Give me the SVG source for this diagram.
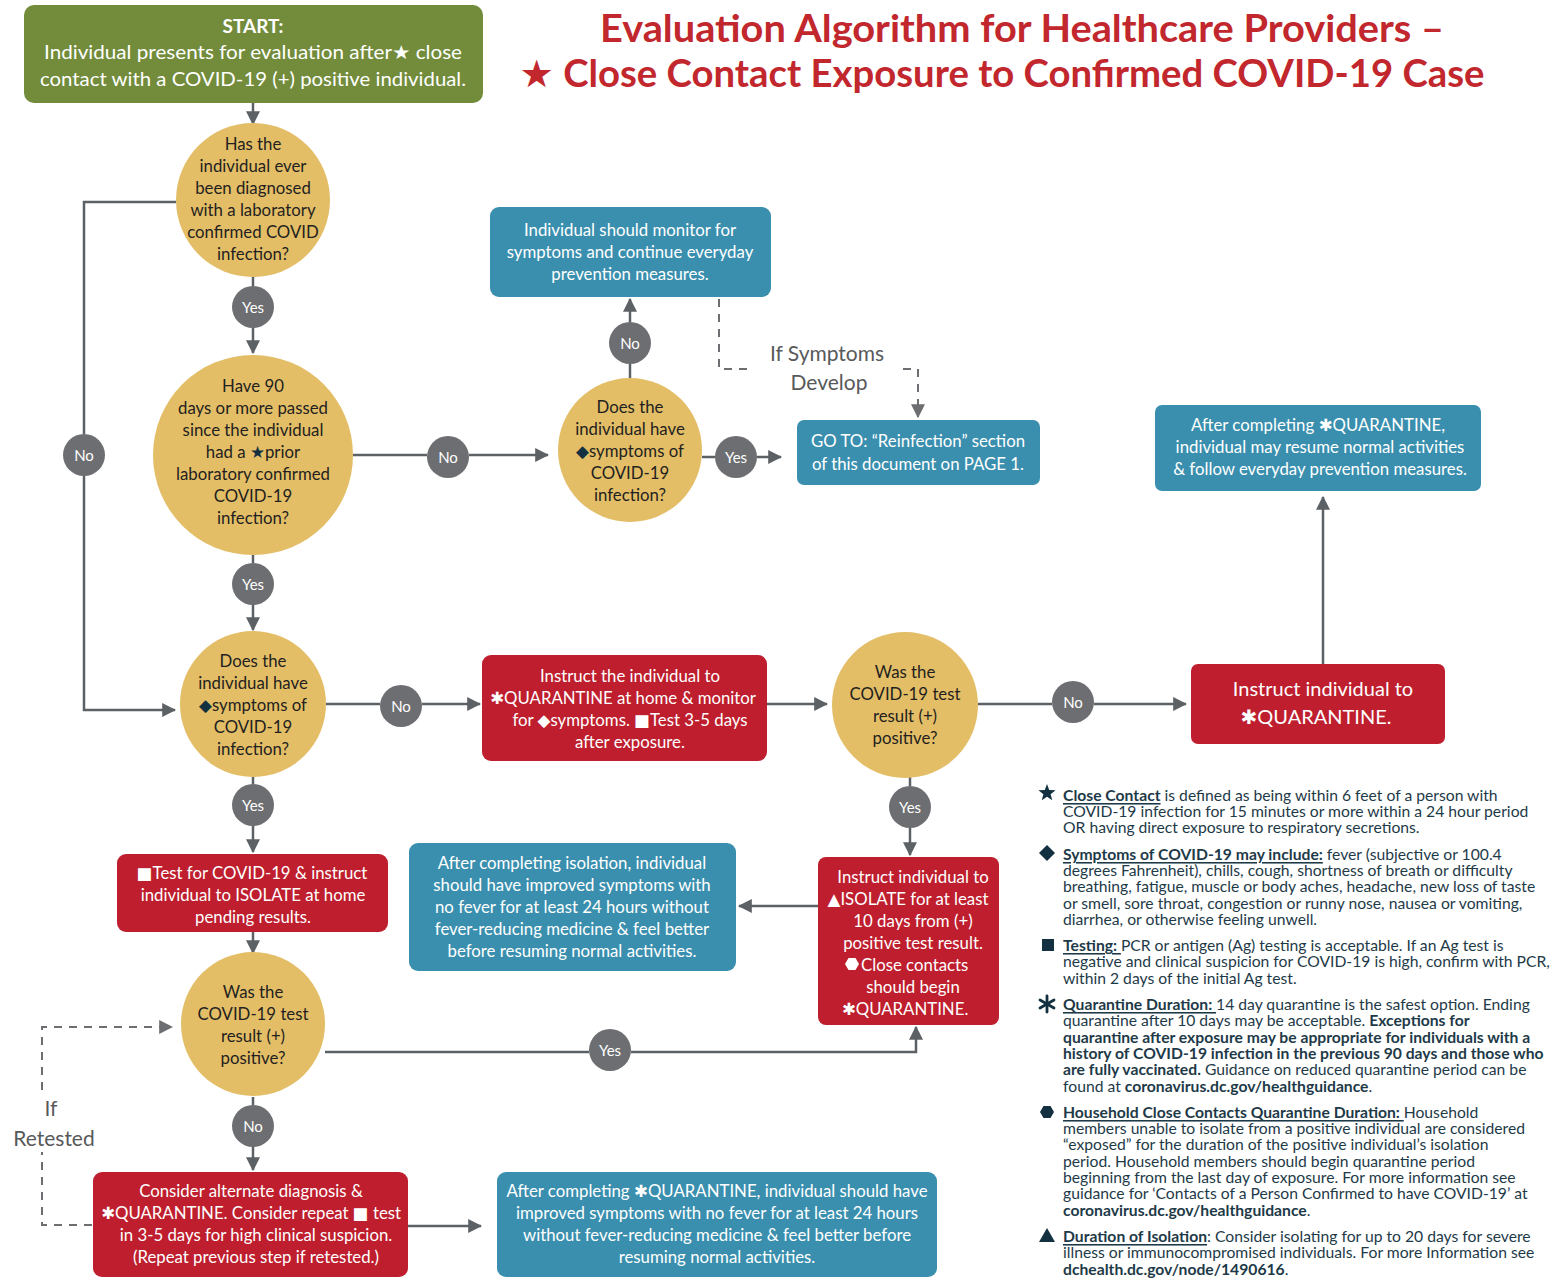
<svg xmlns="http://www.w3.org/2000/svg" width="1554" height="1278" viewBox="0 0 1554 1278">
<style>
text{font-family:Lato,"DejaVu Sans",sans-serif}
.dec{fill:#E3BE67}
.red{fill:#BE1E2D}
.teal{fill:#3A8FAE}
.grn{fill:#728C3B}
.badge{fill:#6D6E71}
.t{font-size:16.8px;fill:#231F20;text-anchor:middle;dominant-baseline:central}
.w{font-size:16.8px;fill:#FFFFFF;text-anchor:middle;dominant-baseline:central}
.bt{font-size:15px;fill:#FFFFFF;text-anchor:middle;dominant-baseline:central}
.c{stroke:#5C6166;stroke-width:2.5;fill:none}
.d{stroke:#6D6E71;stroke-width:2;fill:none;stroke-dasharray:8 7}
.lbl{font-size:21px;fill:#58595B;text-anchor:middle;dominant-baseline:central}
.leg{font-size:15.7px;fill:#1E3A48;dominant-baseline:central}
.b{font-weight:bold}
.u{font-weight:bold;text-decoration:underline}
.sym{fill:#12303F}
</style>
<defs>
<marker id="ah" viewBox="0 0 12 12" refX="11" refY="6" markerWidth="14" markerHeight="14" markerUnits="userSpaceOnUse" orient="auto">
<path d="M0,0 L12,6 L0,12 z" fill="#5C6166"/>
</marker>
<marker id="ahd" viewBox="0 0 12 12" refX="11" refY="6" markerWidth="14" markerHeight="14" markerUnits="userSpaceOnUse" orient="auto">
<path d="M0,0 L12,6 L0,12 z" fill="#6D6E71"/>
</marker>
</defs>

<g id="title">
<text x="1022" y="42" font-size="38" font-weight="bold" fill="#C1272D" text-anchor="middle" textLength="844" lengthAdjust="spacingAndGlyphs">Evaluation Algorithm for Healthcare Providers –</text>
<text x="1002" y="87" font-size="38" font-weight="bold" fill="#C1272D" text-anchor="middle" textLength="965" lengthAdjust="spacingAndGlyphs">★ Close Contact Exposure to Confirmed COVID-19 Case</text>
</g>

<g id="connectors">
<path class="c" d="M253,103 V124" marker-end="url(#ah)"/>
<path class="c" d="M253,277 V286"/>
<path class="c" d="M253,328 V353" marker-end="url(#ah)"/>
<path class="c" d="M253,555 V563"/>
<path class="c" d="M253,605 V630" marker-end="url(#ah)"/>
<path class="c" d="M253,777 V784"/>
<path class="c" d="M253,826 V852" marker-end="url(#ah)"/>
<path class="c" d="M253,932 V953" marker-end="url(#ah)"/>
<path class="c" d="M253,1097 V1105"/>
<path class="c" d="M253,1147 V1170" marker-end="url(#ah)"/>
<path class="c" d="M408,1226 H481" marker-end="url(#ah)"/>
<path class="d" d="M92,1225 H42 V1152"/>
<path class="d" d="M42,1090 V1027 H172" marker-end="url(#ahd)"/>
<path class="c" d="M176,202 H84 V434"/>
<path class="c" d="M84,476 V710 H175" marker-end="url(#ah)"/>
<path class="c" d="M353,455 H427"/>
<path class="c" d="M469,455 H548" marker-end="url(#ah)"/>
<path class="c" d="M630,378 V364"/>
<path class="c" d="M630,322 V299" marker-end="url(#ah)"/>
<path class="c" d="M702,457 H715"/>
<path class="c" d="M757,457 H781" marker-end="url(#ah)"/>
<path class="d" d="M719,299 V369 H752"/>
<path class="d" d="M903,369 H918 V417" marker-end="url(#ahd)"/>
<path class="c" d="M326,704 H380"/>
<path class="c" d="M422,704 H480" marker-end="url(#ah)"/>
<path class="c" d="M767,704 H827" marker-end="url(#ah)"/>
<path class="c" d="M978,704 H1052"/>
<path class="c" d="M1094,704 H1186" marker-end="url(#ah)"/>
<path class="c" d="M1323,664 V497" marker-end="url(#ah)"/>
<path class="c" d="M910,777 V786"/>
<path class="c" d="M910,828 V855" marker-end="url(#ah)"/>
<path class="c" d="M818,906 H739" marker-end="url(#ah)"/>
<path class="c" d="M325,1052 H589"/>
<path class="c" d="M631,1052 H916 V1027" marker-end="url(#ah)"/>
<text class="lbl" x="51" y="1107">If</text>
<text class="lbl" x="54" y="1137">Retested</text>
<text class="lbl" x="827" y="352">If Symptoms</text>
<text class="lbl" x="829" y="381">Develop</text>
</g>

<g id="badges">
<circle class="badge" cx="253" cy="307" r="21"/><text class="bt" x="253" y="307">Yes</text>
<circle class="badge" cx="253" cy="584" r="21"/><text class="bt" x="253" y="584">Yes</text>
<circle class="badge" cx="253" cy="805" r="21"/><text class="bt" x="253" y="805">Yes</text>
<circle class="badge" cx="253" cy="1126" r="21"/><text class="bt" x="253" y="1126">No</text>
<circle class="badge" cx="84" cy="455" r="21"/><text class="bt" x="84" y="455">No</text>
<circle class="badge" cx="448" cy="457" r="21"/><text class="bt" x="448" y="457">No</text>
<circle class="badge" cx="630" cy="343" r="21"/><text class="bt" x="630" y="343">No</text>
<circle class="badge" cx="736" cy="457" r="21"/><text class="bt" x="736" y="457">Yes</text>
<circle class="badge" cx="401" cy="706" r="21"/><text class="bt" x="401" y="706">No</text>
<circle class="badge" cx="1073" cy="702" r="21"/><text class="bt" x="1073" y="702">No</text>
<circle class="badge" cx="910" cy="807" r="21"/><text class="bt" x="910" y="807">Yes</text>
<circle class="badge" cx="610" cy="1050" r="21"/><text class="bt" x="610" y="1050">Yes</text>
</g>

<g id="start">
<rect class="grn" x="24" y="5" width="459" height="98" rx="10"/>
<text class="w b" x="253" y="25" style="font-size:19px">START:</text>
<text class="w" x="253" y="51" style="font-size:19px" textLength="418" lengthAdjust="spacingAndGlyphs">Individual presents for evaluation after★ close</text>
<text class="w" x="253" y="78" style="font-size:19px" textLength="426" lengthAdjust="spacingAndGlyphs">contact with a COVID-19 (+) positive individual.</text>
</g>

<g id="q1">
<circle class="dec" cx="253" cy="200" r="77"/>
<text class="t" x="253" y="143">Has the</text>
<text class="t" x="253" y="165">individual ever</text>
<text class="t" x="253" y="187">been diagnosed</text>
<text class="t" x="253" y="209">with a laboratory</text>
<text class="t" x="253" y="231">confirmed COVID</text>
<text class="t" x="253" y="253">infection?</text>
</g>

<g id="q2">
<circle class="dec" cx="253" cy="455" r="100"/>
<text class="t" x="253" y="385">Have 90</text>
<text class="t" x="253" y="407">days or more passed</text>
<text class="t" x="253" y="429">since the individual</text>
<text class="t" x="253" y="451">had a <tspan fill="#12303F">★</tspan>prior</text>
<text class="t" x="253" y="473">laboratory confirmed</text>
<text class="t" x="253" y="495">COVID-19</text>
<text class="t" x="253" y="517">infection?</text>
</g>

<g id="q3">
<circle class="dec" cx="253" cy="704" r="73"/>
<text class="t" x="253" y="660">Does the</text>
<text class="t" x="253" y="682">individual have</text>
<text class="t" x="253" y="704"><tspan fill="#12303F">◆</tspan>symptoms of</text>
<text class="t" x="253" y="726">COVID-19</text>
<text class="t" x="253" y="748">infection?</text>
</g>

<g id="q4">
<circle class="dec" cx="253" cy="1024" r="72"/>
<text class="t" x="253" y="991">Was the</text>
<text class="t" x="253" y="1013">COVID-19 test</text>
<text class="t" x="253" y="1035">result (+)</text>
<text class="t" x="253" y="1057">positive?</text>
</g>

<g id="q5">
<circle class="dec" cx="630" cy="450" r="72"/>
<text class="t" x="630" y="406">Does the</text>
<text class="t" x="630" y="428">individual have</text>
<text class="t" x="630" y="450"><tspan fill="#12303F">◆</tspan>symptoms of</text>
<text class="t" x="630" y="472">COVID-19</text>
<text class="t" x="630" y="494">infection?</text>
</g>

<g id="q6">
<circle class="dec" cx="905" cy="705" r="73"/>
<text class="t" x="905" y="671">Was the</text>
<text class="t" x="905" y="693">COVID-19 test</text>
<text class="t" x="905" y="715">result (+)</text>
<text class="t" x="905" y="737">positive?</text>
</g>

<g id="test-isolate">
<rect class="red" x="117" y="854" width="271" height="78" rx="9"/>
<text class="w" x="252" y="872">■Test for COVID-19 &amp; instruct</text>
<text class="w" x="253" y="894">individual to ISOLATE at home</text>
<text class="w" x="253" y="916">pending results.</text>
</g>

<g id="alternate">
<rect class="red" x="93" y="1172" width="315" height="105" rx="9"/>
<text class="w" x="251" y="1190">Consider alternate diagnosis &amp;</text>
<text class="w" x="251" y="1212">✱QUARANTINE. Consider repeat ■ test</text>
<text class="w" x="256" y="1234">in 3-5 days for high clinical suspicion.</text>
<text class="w" x="256" y="1256">(Repeat previous step if retested.)</text>
</g>

<g id="after-quarantine-symptoms">
<rect class="teal" x="497" y="1172" width="440" height="105" rx="9"/>
<text class="w" x="717" y="1190">After completing  ✱QUARANTINE, individual should have</text>
<text class="w" x="717" y="1212">improved symptoms with no fever for at least 24 hours</text>
<text class="w" x="717" y="1234">without fever-reducing medicine &amp; feel better before</text>
<text class="w" x="717" y="1256">resuming normal activities.</text>
</g>

<g id="monitor">
<rect class="teal" x="490" y="207" width="281" height="90" rx="9"/>
<text class="w" x="630" y="229">Individual should monitor for</text>
<text class="w" x="630" y="251">symptoms and continue everyday</text>
<text class="w" x="630" y="273">prevention measures.</text>
</g>

<g id="reinfection">
<rect class="teal" x="797" y="420" width="243" height="65" rx="7"/>
<text class="w" x="918" y="440">GO TO: “Reinfection” section</text>
<text class="w" x="918" y="463">of this document on PAGE 1.</text>
</g>

<g id="quarantine-monitor">
<rect class="red" x="482" y="655" width="285" height="106" rx="9"/>
<text class="w" x="630" y="675">Instruct the individual to</text>
<text class="w" x="623" y="697">✱QUARANTINE at home &amp; monitor</text>
<text class="w" x="630" y="719">for ◆symptoms. ■Test 3-5 days</text>
<text class="w" x="630" y="741">after exposure.</text>
</g>

<g id="quarantine">
<rect class="red" x="1191" y="664" width="254" height="80" rx="7"/>
<text class="w" x="1323" y="688" style="font-size:20px">Instruct individual to</text>
<text class="w" x="1316" y="716" style="font-size:20px">✱QUARANTINE.</text>
</g>

<g id="resume">
<rect class="teal" x="1155" y="405" width="326" height="86" rx="7"/>
<text class="w" x="1318" y="424">After completing  ✱QUARANTINE,</text>
<text class="w" x="1320" y="446">individual may resume normal activities</text>
<text class="w" x="1320" y="468">&amp; follow everyday prevention measures.</text>
</g>

<g id="isolate">
<rect class="red" x="818" y="857" width="181" height="168" rx="8"/>
<text class="w" x="913" y="876">Instruct individual to</text>
<text class="w" x="908" y="898">▲ISOLATE for at least</text>
<text class="w" x="913" y="920">10 days from (+)</text>
<text class="w" x="913" y="942">positive test result.</text>
<polygon fill="#FFFFFF" points="845,964 848.5,958 855.5,958 859,964 855.5,970 848.5,970"/>
<text class="w" x="861" y="964" style="text-anchor:start">Close contacts</text>
<text class="w" x="913" y="986">should begin</text>
<text class="w" x="905" y="1008">✱QUARANTINE.</text>
</g>

<g id="after-isolation">
<rect class="teal" x="409" y="843" width="327" height="128" rx="9"/>
<text class="w" x="572" y="862">After completing isolation, individual</text>
<text class="w" x="572" y="884">should have improved symptoms with</text>
<text class="w" x="572" y="906">no fever for at least 24 hours without</text>
<text class="w" x="572" y="928">fever-reducing medicine &amp; feel better</text>
<text class="w" x="572" y="950">before resuming normal activities.</text>
</g>

<g id="legend">
<polygon class="sym" points="1047,784 1049.2,789.9 1055.6,790.2 1050.6,794.2 1052.3,800.3 1047,796.8 1041.7,800.3 1043.4,794.2 1038.4,790.2 1044.8,789.9"/>
<text class="leg" x="1063" y="795"><tspan class="u">Close Contact</tspan> is defined as being within 6 feet of a person with</text>
<text class="leg" x="1063" y="811">COVID-19 infection for 15 minutes or more within a 24 hour period</text>
<text class="leg" x="1063" y="827">OR having direct exposure to respiratory secretions.</text>

<polygon class="sym" points="1047,845 1055,853 1047,861 1039,853"/>
<text class="leg" x="1063" y="854"><tspan class="u">Symptoms of COVID-19 may include:</tspan> fever (subjective or 100.4</text>
<text class="leg" x="1063" y="870">degrees Fahrenheit), chills, cough, shortness of breath or difficulty</text>
<text class="leg" x="1063" y="886">breathing, fatigue, muscle or body aches, headache, new loss of taste</text>
<text class="leg" x="1063" y="903">or smell, sore throat, congestion or runny nose, nausea or vomiting,</text>
<text class="leg" x="1063" y="919">diarrhea, or otherwise feeling unwell.</text>

<rect class="sym" x="1042" y="939" width="12" height="12"/>
<text class="leg" x="1063" y="945"><tspan class="u">Testing: </tspan>PCR or antigen (Ag) testing is acceptable. If an Ag test is</text>
<text class="leg" x="1063" y="961">negative and clinical suspicion for COVID-19 is high, confirm with PCR,</text>
<text class="leg" x="1063" y="978">within 2 days of the initial Ag test.</text>

<g stroke="#12303F" stroke-width="2.8" stroke-linecap="round">
<line x1="1047" y1="996" x2="1047" y2="1012"/>
<line x1="1040" y1="1000" x2="1054" y2="1008"/>
<line x1="1040" y1="1008" x2="1054" y2="1000"/>
</g>
<text class="leg" x="1063" y="1004"><tspan class="u">Quarantine Duration: </tspan>14 day quarantine is the safest option. Ending</text>
<text class="leg" x="1063" y="1020">quarantine after 10 days may be acceptable. <tspan class="b">Exceptions for</tspan></text>
<text class="leg b" x="1063" y="1037">quarantine after exposure may be appropriate for individuals with a</text>
<text class="leg b" x="1063" y="1053">history of COVID-19 infection in the previous 90 days and those who</text>
<text class="leg" x="1063" y="1069"><tspan class="b">are fully vaccinated.</tspan> Guidance on reduced quarantine period can be</text>
<text class="leg" x="1063" y="1086">found at <tspan class="b">coronavirus.dc.gov/healthguidance</tspan>.</text>

<polygon class="sym" points="1040,1112 1043.5,1106 1050.5,1106 1054,1112 1050.5,1118 1043.5,1118"/>
<text class="leg" x="1063" y="1112"><tspan class="u">Household Close Contacts Quarantine Duration: </tspan>Household</text>
<text class="leg" x="1063" y="1128">members unable to isolate from a positive individual are considered</text>
<text class="leg" x="1063" y="1144">“exposed” for the duration of the positive individual’s isolation</text>
<text class="leg" x="1063" y="1161">period. Household members should begin quarantine period</text>
<text class="leg" x="1063" y="1177">beginning from the last day of exposure. For more information see</text>
<text class="leg" x="1063" y="1193">guidance for ‘Contacts of a Person Confirmed to have COVID-19’ at</text>
<text class="leg" x="1063" y="1210"><tspan class="b">coronavirus.dc.gov/healthguidance</tspan>.</text>

<polygon class="sym" points="1047,1228 1055,1242 1039,1242"/>
<text class="leg" x="1063" y="1236"><tspan class="u">Duration of Isolation</tspan>: Consider isolating for up to 20 days for severe</text>
<text class="leg" x="1063" y="1252">illness or immunocompromised individuals. For more Information see</text>
<text class="leg" x="1063" y="1269"><tspan class="b">dchealth.dc.gov/node/1490616</tspan>.</text>
</g>
</svg>
